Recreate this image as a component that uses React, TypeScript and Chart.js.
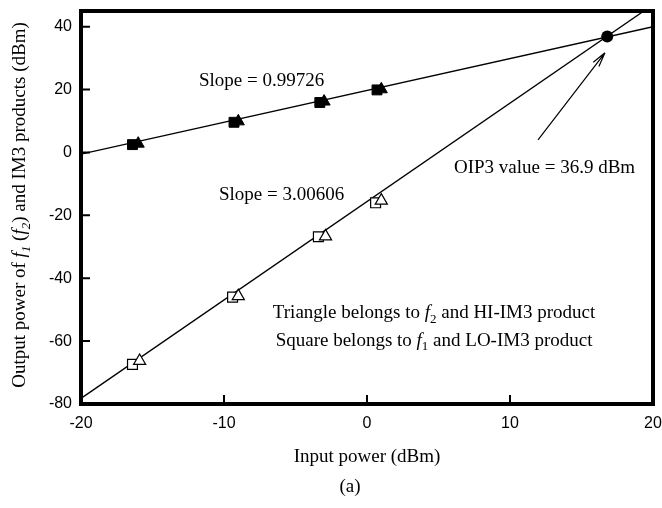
import React, { useEffect, useRef } from "react";
import { Chart, registerables } from "chart.js";

Chart.register(...registerables);

const SERIF = '"Liberation Serif", "Times New Roman", serif';
const SANS = '"Liberation Sans", Arial, sans-serif';

// Input power (dBm) of each measured point
const fundInputSq = [-16.4, -9.3, -3.3, 0.7];
const fundInputTri = [-16.0, -9.0, -3.0, 1.0];
const im3InputSq = [-16.4, -9.4, -3.4, 0.6];
const im3InputTri = [-15.9, -9.0, -2.9, 1.0];

// Output power (dBm): f1 (square) / f2 (triangle) fundamentals
const fundOutSq = [2.5, 9.6, 15.9, 19.9];
const fundOutTri = [2.8, 9.9, 16.2, 20.1];

// Output power (dBm): LO-IM3 (square) / HI-IM3 (triangle) products
const im3OutSq = [-67.4, -46.0, -26.8, -16.0];
const im3OutTri = [-66.3, -45.7, -26.7, -15.3];

// Fitted lines, end points across the input range
const fitX = [-20, 20];
const fundFitY = [-0.5, 40.0];
const im3FitY = [-78.2, 47.0];

// Third-order intercept point
const oip3X = [16.8];
const oip3Y = [36.9];

// Axis ticks
const xTickValues = [-20, -10, 0, 10, 20];
const yTickValues = [-80, -60, -40, -20, 0, 20, 40];

const pts = (xs: number[], ys: number[]) => xs.map((x, i) => ({ x, y: ys[i] }));

type Seg = { t: string; italic?: boolean; sub?: boolean };

function drawRich(
  ctx: CanvasRenderingContext2D,
  segs: Seg[],
  x: number,
  y: number,
  size: number,
  align: "left" | "center"
) {
  const fontFor = (s: Seg) =>
    `${s.italic ? "italic " : ""}${s.sub ? Math.round(size * 0.68) : size}px ${SERIF}`;
  let total = 0;
  for (const s of segs) {
    ctx.font = fontFor(s);
    total += ctx.measureText(s.t).width;
  }
  let cx = align === "center" ? x - total / 2 : x;
  ctx.textAlign = "left";
  ctx.textBaseline = "alphabetic";
  for (const s of segs) {
    ctx.font = fontFor(s);
    ctx.fillText(s.t, cx, y + (s.sub ? size * 0.25 : 0));
    cx += ctx.measureText(s.t).width;
  }
}

const decorPlugin = {
  id: "decor",
  afterDraw(chart: any) {
    const ctx: CanvasRenderingContext2D = chart.ctx;
    const { left, right, top, bottom } = chart.chartArea;
    const xs = chart.scales.x;
    const ys = chart.scales.y;
    const px = (v: number) => xs.getPixelForValue(v);
    const py = (v: number) => ys.getPixelForValue(v);

    ctx.save();
    ctx.fillStyle = "#000";
    ctx.strokeStyle = "#000";

    // inward tick marks
    ctx.lineWidth = 2;
    ctx.beginPath();
    for (const v of yTickValues) {
      if (v === -80) continue;
      ctx.moveTo(left, py(v));
      ctx.lineTo(left + 9, py(v));
    }
    for (const v of xTickValues) {
      if (v === -20 || v === 20) continue;
      ctx.moveTo(px(v), bottom);
      ctx.lineTo(px(v), bottom - 9);
    }
    ctx.stroke();

    // heavy frame
    ctx.lineWidth = 4;
    ctx.strokeRect(left, top, right - left, bottom - top);

    // arrow pointing at the intercept
    const tx = px(11.96), tyy = py(4.0);
    const hx = px(16.64), hy = py(31.7);
    ctx.lineWidth = 1.2;
    ctx.beginPath();
    ctx.moveTo(tx, tyy);
    ctx.lineTo(hx, hy);
    const ang = Math.atan2(hy - tyy, hx - tx);
    const hl = 15;
    for (const d of [0.24, -0.24]) {
      ctx.moveTo(hx, hy);
      ctx.lineTo(hx - hl * Math.cos(ang + d), hy - hl * Math.sin(ang + d));
    }
    ctx.stroke();

    // annotations
    drawRich(ctx, [{ t: "Slope = 0.99726" }], px(-11.75), py(21.2), 19, "left");
    drawRich(ctx, [{ t: "Slope = 3.00606" }], px(-10.35), py(-15.1), 19, "left");
    drawRich(ctx, [{ t: "OIP3 value = 36.9 dBm" }], px(6.08), py(-6.5), 19, "left");
    drawRich(
      ctx,
      [
        { t: "Triangle belongs to " },
        { t: "f", italic: true },
        { t: "2", sub: true },
        { t: " and HI-IM3 product" },
      ],
      px(4.69),
      py(-52.8),
      19,
      "center"
    );
    drawRich(
      ctx,
      [
        { t: "Square belongs to " },
        { t: "f", italic: true },
        { t: "1", sub: true },
        { t: " and LO-IM3 product" },
      ],
      px(4.69),
      py(-61.4),
      19,
      "center"
    );

    // axis titles
    drawRich(ctx, [{ t: "Input power (dBm)" }], (left + right) / 2, 462, 19, "center");
    drawRich(ctx, [{ t: "(a)" }], 350, 492, 19, "center");

    ctx.save();
    ctx.translate(25, 205);
    ctx.rotate(-Math.PI / 2);
    drawRich(
      ctx,
      [
        { t: "Output power of " },
        { t: "f", italic: true },
        { t: "1", sub: true, italic: true },
        { t: " (" },
        { t: "f", italic: true },
        { t: "2", sub: true, italic: true },
        { t: ") and IM3 products (dBm)" },
      ],
      0,
      0,
      19,
      "center"
    );
    ctx.restore();

    ctx.restore();
  },
};

export default function App() {
  const canvasRef = useRef<HTMLCanvasElement | null>(null);

  useEffect(() => {
    const canvas = canvasRef.current;
    if (!canvas) return;

    const lineStyle = {
      showLine: true,
      pointRadius: 0,
      borderColor: "#000",
      borderWidth: 1.3,
      fill: false,
    };

    const noScalePadding = (scale: any) => {
      scale.paddingTop = 0;
      scale.paddingBottom = 0;
      scale.paddingLeft = 0;
      scale.paddingRight = 0;
    };

    const chart = new Chart(canvas, {
      type: "scatter",
      data: {
        datasets: [
          { ...lineStyle, data: pts(fitX, fundFitY), order: 10 },
          { ...lineStyle, data: pts(fitX, im3FitY), order: 10 },
          {
            data: pts(fundInputSq, fundOutSq),
            pointStyle: "rect",
            pointRadius: 7,
            backgroundColor: "#000",
            borderColor: "#000",
            borderWidth: 1,
            order: 5,
          },
          {
            data: pts(fundInputTri, fundOutTri),
            pointStyle: "triangle",
            pointRadius: 7,
            backgroundColor: "#000",
            borderColor: "#000",
            borderWidth: 1,
            order: 4,
          },
          {
            data: pts(im3InputSq, im3OutSq),
            pointStyle: "rect",
            pointRadius: 7,
            backgroundColor: "#fff",
            borderColor: "#000",
            borderWidth: 1.2,
            order: 5,
          },
          {
            data: pts(im3InputTri, im3OutTri),
            pointStyle: "triangle",
            pointRadius: 7,
            backgroundColor: "#fff",
            borderColor: "#000",
            borderWidth: 1.2,
            order: 4,
          },
          {
            data: pts(oip3X, oip3Y),
            pointStyle: "circle",
            pointRadius: 6,
            backgroundColor: "#000",
            borderColor: "#000",
            borderWidth: 0,
            order: 1,
          },
        ],
      },
      options: {
        animation: false,
        responsive: false,
        maintainAspectRatio: false,
        events: [],
        layout: { padding: { top: 11, right: 9, left: 0, bottom: 0 } },
        plugins: {
          legend: { display: false },
          tooltip: { enabled: false },
        },
        scales: {
          x: {
            type: "linear",
            min: -20,
            max: 20,
            grid: { display: false, drawTicks: false },
            border: { display: false },
            afterBuildTicks: (scale: any) => {
              scale.ticks = xTickValues.map((v) => ({ value: v }));
            },
            afterFit: (scale: any) => {
              scale.height = 104;
              noScalePadding(scale);
            },
            ticks: {
              color: "#000",
              padding: 10,
              maxRotation: 0,
              font: { family: SANS, size: 16 },
            },
          },
          y: {
            type: "linear",
            min: -80,
            max: 45,
            grid: { display: false, drawTicks: false },
            border: { display: false },
            afterBuildTicks: (scale: any) => {
              scale.ticks = yTickValues.map((v) => ({ value: v }));
            },
            afterFit: (scale: any) => {
              scale.width = 81;
              noScalePadding(scale);
            },
            ticks: {
              color: "#000",
              padding: 9,
              font: { family: SANS, size: 16 },
            },
          },
        },
      },
      plugins: [decorPlugin],
    });

    return () => chart.destroy();
  }, []);

  return (
    <div
      style={{
        position: "fixed",
        left: 0,
        top: 0,
        width: 662,
        height: 508,
        background: "#fff",
      }}
    >
      <canvas ref={canvasRef} width={662} height={508} style={{ display: "block" }} />
    </div>
  );
}
